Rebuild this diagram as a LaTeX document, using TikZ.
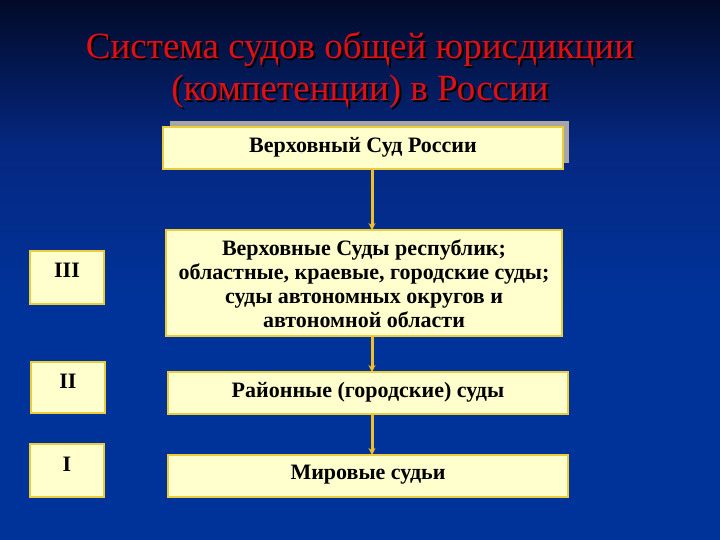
\documentclass[tikz,border=0pt]{standalone}
\usepackage{fontspec}
\setmainfont{Liberation Serif}
\usetikzlibrary{arrows.meta,calc}
\definecolor{bgtop}{RGB}{2,10,40}
\definecolor{bgmid}{RGB}{5,40,130}
\definecolor{bgbot}{RGB}{0,51,153}
\definecolor{boxfill}{RGB}{255,255,206}
\definecolor{boxedge}{RGB}{235,205,60}
\definecolor{titlered}{RGB}{225,15,20}
\definecolor{arrowcol}{RGB}{240,190,40}
\newcommand{\shadowtext}[1]{\makebox[0pt][l]{\hspace{2pt}\raisebox{-2pt}{\color{black}#1}}#1}
\tikzset{
  box/.style={draw=boxedge, fill=boxfill, line width=1.8pt},
  boxtext/.style={font=\bfseries\fontsize{22}{24}\selectfont, align=center, text=black},
  link/.style={draw=arrowcol, line width=3pt, -{Stealth[length=7pt,width=7pt]}},
  titletext/.style={font=\fontsize{37}{43}\selectfont, align=center, text=titlered, inner sep=0pt}
}
\begin{document}
\begin{tikzpicture}[x=1pt,y=-1pt]
\useasboundingbox (0,0) rectangle (720,540);
\shade[top color=bgtop, bottom color=bgbot, middle color=bgmid] (0,0) rectangle (720,300);
\fill[bgbot] (0,299) rectangle (720,540);
% title
\node[titletext] (t1) at (360,50) {\shadowtext{Система судов общей юрисдикции}};
\node[titletext] (t2) at (360,93) {\shadowtext{(компетенции) в России}};
% top box with shadow
\fill[gray!70] (170,121) rectangle (569,163);
\draw[box] (163,127) rectangle (563,169);
\node[boxtext] (sup) at (363,147) {Верховный Суд России};
\coordinate (supb) at (372,169);
% box 2
\draw[box] (166,230) rectangle (562,336);
\node[boxtext] (rep) at (364,284) {Верховные Суды республик;\\областные, краевые, городские суды;\\суды автономных округов и\\автономной области};
\coordinate (rept) at (372,230);
\coordinate (repb) at (372,336);
% box 3
\draw[box] (168,372) rectangle (568,414);
\node[boxtext] (rai) at (368,392) {Районные (городские) суды};
\coordinate (rait) at (372,372);
\coordinate (raib) at (372,414);
% box 4
\draw[box] (168,455) rectangle (568,497);
\node[boxtext] (mir) at (368,475) {Мировые судьи};
\coordinate (mirt) at (372,455);
% level boxes
\draw[box] (30,251) rectangle (104,304);
\node[boxtext] (l3) at (67,270) {III};
\draw[box] (31,362) rectangle (105,413);
\node[boxtext] (l2) at (68,381) {II};
\draw[box] (30,444) rectangle (104,497);
\node[boxtext] (l1) at (67,464) {I};
% arrows
\draw[link] (supb) -- (rept);
\draw[link] (repb) -- (rait);
\draw[link] (raib) -- (mirt);
\end{tikzpicture}
\end{document}
